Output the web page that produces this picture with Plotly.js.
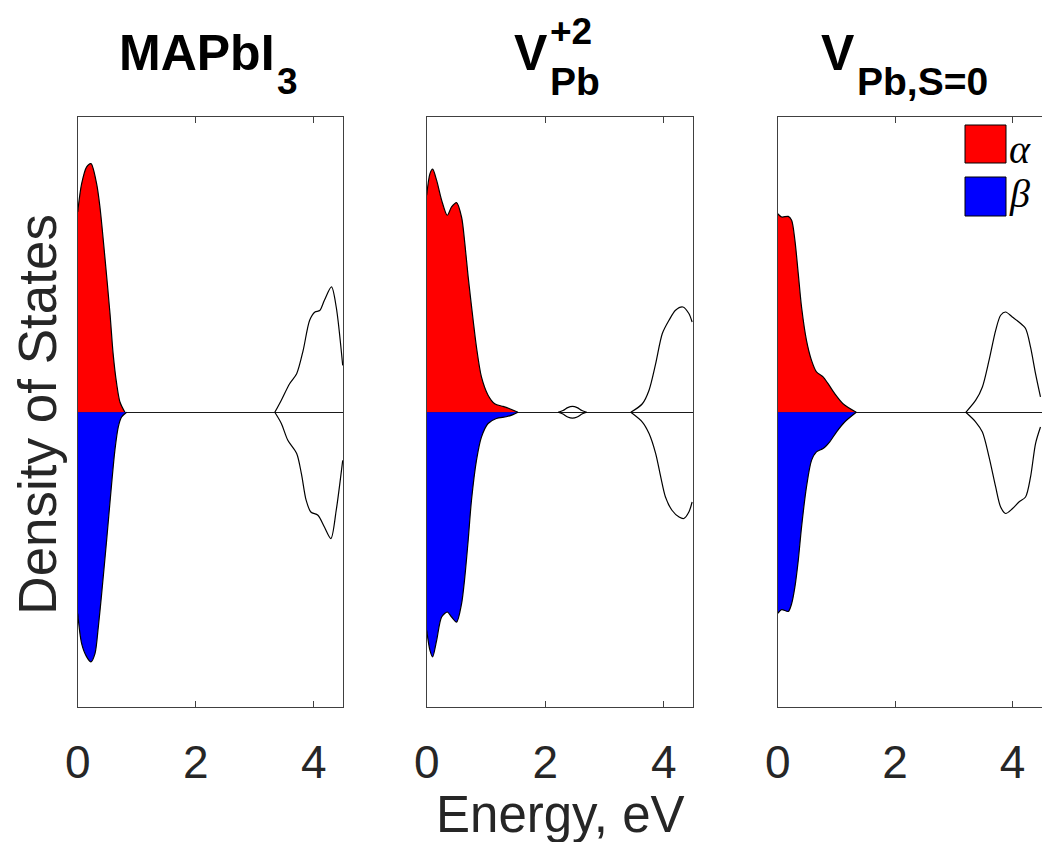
<!DOCTYPE html>
<html>
<head>
<meta charset="utf-8">
<script src="https://cdn.plot.ly/plotly-3.0.1.min.js"></script>
<style>html,body{margin:0;padding:0;background:#fff;}#chart{width:1042px;height:842px;}</style>
</head>
<body>
<div id="chart"></div>
<script>
// ---------------- DATA ----------------
// Panel 1: MAPbI3
const p1_alpha_vb_E = [0, 0.067, 0.152, 0.225, 0.32, 0.377, 0.46, 0.547, 0.60, 0.66, 0.716, 0.80];
const p1_alpha_vb   = [6.79, 7.75, 8.32, 8.43, 7.75, 6.96, 5.27, 3.35, 1.99, 0.97, 0.35, 0];
const p1_beta_vb_E  = [0, 0.067, 0.152, 0.225, 0.293, 0.349, 0.406, 0.49, 0.575, 0.63, 0.687, 0.744, 0.83];
const p1_beta_vb    = [-6.82, -7.84, -8.29, -8.46, -8.18, -7.28, -6.15, -4.34, -2.42, -1.29, -0.5, -0.16, 0];
const p1_alpha_cb_E = [3.34, 3.45, 3.59, 3.71, 3.82, 3.93, 4.02, 4.10, 4.18, 4.30, 4.38, 4.49];
const p1_alpha_cb   = [0, 0.41, 0.97, 1.31, 2.1, 3.12, 3.40, 3.45, 3.80, 4.25, 3.57, 1.59];
const p1_beta_cb_E  = [3.34, 3.45, 3.56, 3.71, 3.79, 3.87, 3.95, 4.07, 4.18, 4.29, 4.38, 4.49];
const p1_beta_cb    = [0, -0.38, -0.95, -1.4, -2.08, -2.98, -3.38, -3.49, -3.89, -4.28, -3.32, -1.63];

// Panel 2: V_Pb^{+2}
const p2_alpha_vb_E = [0, 0.055, 0.10, 0.168, 0.252, 0.347, 0.42, 0.504, 0.588, 0.644, 0.70, 0.784, 0.84, 0.924, 1.036, 1.148, 1.288, 1.40, 1.54];
const p2_alpha_vb   = [7.36, 8.09, 8.24, 7.86, 7.19, 6.68, 6.96, 7.11, 6.62, 5.72, 4.59, 3.12, 2.21, 1.20, 0.58, 0.29, 0.2, 0.12, 0];
const p2_beta_vb_E  = [0, 0.055, 0.10, 0.168, 0.252, 0.347, 0.42, 0.504, 0.588, 0.644, 0.70, 0.756, 0.84, 0.924, 1.036, 1.176, 1.344, 1.456, 1.54];
const p2_beta_vb    = [-7.39, -8.07, -8.29, -7.73, -6.94, -6.77, -6.94, -7.11, -6.49, -5.58, -4.34, -2.98, -1.63, -0.84, -0.38, -0.21, -0.15, -0.08, 0];
const p2_alpha_gap_E = [2.22, 2.30, 2.38, 2.46, 2.54, 2.62, 2.70];
const p2_alpha_gap   = [0, 0.06, 0.16, 0.2, 0.16, 0.06, 0];
const p2_beta_gap_E  = [2.22, 2.30, 2.38, 2.46, 2.54, 2.62, 2.70];
const p2_beta_gap    = [0, -0.06, -0.16, -0.2, -0.16, -0.06, 0];
const p2_alpha_cb_E = [3.445, 3.64, 3.753, 3.865, 3.977, 4.09, 4.20, 4.324, 4.425, 4.48];
const p2_alpha_cb   = [0, 0.29, 0.75, 1.65, 2.67, 3.12, 3.46, 3.57, 3.35, 3.06];
const p2_beta_cb_E  = [3.445, 3.64, 3.753, 3.865, 3.95, 4.03, 4.14, 4.26, 4.34, 4.425, 4.48];
const p2_beta_cb    = [0, -0.33, -0.72, -1.4, -2.19, -2.87, -3.32, -3.55, -3.6, -3.38, -3.04];

// Panel 3: V_Pb,S=0
const p3_alpha_vb_E = [0, 0.068, 0.18, 0.237, 0.293, 0.35, 0.406, 0.49, 0.576, 0.66, 0.773, 0.858, 0.971, 1.112, 1.338];
const p3_alpha_vb   = [6.73, 6.62, 6.64, 6.51, 5.83, 4.70, 3.57, 2.44, 1.76, 1.37, 1.20, 0.97, 0.63, 0.29, 0];
const p3_beta_vb_E  = [0, 0.068, 0.18, 0.237, 0.293, 0.35, 0.406, 0.49, 0.576, 0.66, 0.773, 0.886, 1.0, 1.14, 1.338];
const p3_beta_vb    = [-6.82, -6.69, -6.75, -6.49, -5.92, -5.02, -3.89, -2.53, -1.63, -1.34, -1.23, -1.0, -0.67, -0.33, 0];
const p3_alpha_cb_E = [3.203, 3.372, 3.485, 3.598, 3.711, 3.796, 3.881, 3.994, 4.107, 4.22, 4.305, 4.39, 4.474];
const p3_alpha_cb   = [0, 0.41, 0.86, 1.76, 2.78, 3.29, 3.40, 3.23, 3.06, 2.84, 2.21, 1.31, 0.52];
const p3_beta_cb_E  = [3.203, 3.372, 3.485, 3.598, 3.711, 3.796, 3.881, 3.994, 4.107, 4.22, 4.305, 4.39, 4.474];
const p3_beta_cb    = [0, -0.33, -0.67, -1.51, -2.53, -3.21, -3.43, -3.27, -3.04, -2.87, -2.19, -1.06, -0.5];

const xTickVals = [0, 2, 4];
const xTickText = ['0', '2', '4'];
const panelTitles = ['MAPbI', 'V', 'V'];
const spinLabels = ['\u03B1', '\u03B2'];
const xLabel = 'Energy, eV';
const yLabel = 'Density of States';

// ---------------- STYLE / LAYOUT ----------------
const W = 1042, H = 842;
const FONT = 'Liberation Sans, Arial, Helvetica, sans-serif';
const TXT = '#262626';
const AX = '#404040';
const RED = '#ff0000', BLUE = '#0000ff';
const px = v => v / W;
const py = v => 1 - v / H;

function fillTrace(x, y, color, ax) {
  return {x: x, y: y, type: 'scatter', mode: 'lines', fill: 'tozeroy', fillcolor: color,
    line: {color: '#000', width: 1.2, shape: 'spline', smoothing: 0.8},
    xaxis: 'x' + ax, yaxis: 'y' + ax, showlegend: false, hoverinfo: 'skip'};
}
function lineTrace(x, y, ax) {
  return {x: x, y: y, type: 'scatter', mode: 'lines',
    line: {color: '#000', width: 1.2, shape: 'spline', smoothing: 0.8},
    xaxis: 'x' + ax, yaxis: 'y' + ax, showlegend: false, hoverinfo: 'skip'};
}

const traces = [
  fillTrace(p1_alpha_vb_E, p1_alpha_vb, RED, ''),
  fillTrace(p1_beta_vb_E, p1_beta_vb, BLUE, ''),
  lineTrace(p1_alpha_cb_E, p1_alpha_cb, ''),
  lineTrace(p1_beta_cb_E, p1_beta_cb, ''),
  fillTrace(p2_alpha_vb_E, p2_alpha_vb, RED, '2'),
  fillTrace(p2_beta_vb_E, p2_beta_vb, BLUE, '2'),
  lineTrace(p2_alpha_gap_E, p2_alpha_gap, '2'),
  lineTrace(p2_beta_gap_E, p2_beta_gap, '2'),
  lineTrace(p2_alpha_cb_E, p2_alpha_cb, '2'),
  lineTrace(p2_beta_cb_E, p2_beta_cb, '2'),
  fillTrace(p3_alpha_vb_E, p3_alpha_vb, RED, '3'),
  fillTrace(p3_beta_vb_E, p3_beta_vb, BLUE, '3'),
  lineTrace(p3_alpha_cb_E, p3_alpha_cb, '3'),
  lineTrace(p3_beta_cb_E, p3_beta_cb, '3')
];

const yDom = [py(707.3), py(117.3)];
function xAx(dom, anchor) {
  return {domain: dom, anchor: anchor, range: [0, 4.5], tickmode: 'array', tickvals: xTickVals, ticktext: xTickText,
    ticks: 'inside', ticklen: 6, tickwidth: 1, tickcolor: AX, mirror: 'ticks', showline: true, linecolor: AX, linewidth: 1,
    showgrid: false, zeroline: false, fixedrange: true, ticklabelstandoff: 14,
    tickfont: {family: FONT, size: 46, color: TXT}};
}
function yAx(anchor) {
  return {domain: yDom, anchor: anchor, range: [-10, 10], showticklabels: false, ticks: '', showline: true, mirror: true,
    linecolor: AX, linewidth: 1, showgrid: false, zeroline: true, zerolinecolor: '#1a1a1a', zerolinewidth: 1, fixedrange: true};
}

// text placed by baseline (pixel coords)
function txt(text, xLeft, baseline, size, opts) {
  opts = opts || {};
  const cy = baseline - 0.3465 * size;
  return Object.assign({text: text, xref: 'paper', yref: 'paper', x: px(xLeft), y: py(cy),
    xanchor: 'left', yanchor: 'middle', showarrow: false, borderpad: 0,
    font: {family: FONT, size: size, color: opts.color || '#000'}}, opts.extra || {});
}

const annotations = [
  txt('<b>' + panelTitles[0] + '</b>', 118, 70, 50),
  txt('<b>3</b>', 276, 94, 37),
  txt('<b>' + panelTitles[1] + '</b>', 513, 70, 50),
  txt('<b>+2</b>', 549, 44, 37),
  txt('<b>Pb</b>', 549, 95, 39),
  txt('<b>' + panelTitles[2] + '</b>', 820, 70, 50),
  txt('<b>Pb,S=0</b>', 856, 95, 39),
  {text: xLabel, xref: 'paper', yref: 'paper', x: px(560), y: py(832 - 0.3465 * 51), xanchor: 'center', yanchor: 'middle',
    showarrow: false, borderpad: 0, font: {family: FONT, size: 51, color: TXT}},
  {text: yLabel, xref: 'paper', yref: 'paper', x: px(55 - 0.3465 * 53), y: py(414), xanchor: 'center', yanchor: 'middle',
    textangle: -90, showarrow: false, borderpad: 0, font: {family: FONT, size: 53, color: TXT}},
  {text: '<i>' + spinLabels[0] + '</i>', xref: 'paper', yref: 'paper', x: px(1008), y: py(163 - 0.33 * 40), xanchor: 'left', yanchor: 'middle',
    showarrow: false, borderpad: 0, font: {family: 'Liberation Serif, DejaVu Serif, serif', size: 40, color: '#000'}},
  {text: '<i>' + spinLabels[1] + '</i>', xref: 'paper', yref: 'paper', x: px(1008), y: py(207 - 0.33 * 40), xanchor: 'left', yanchor: 'middle',
    showarrow: false, borderpad: 0, font: {family: 'Liberation Serif, DejaVu Serif, serif', size: 40, color: '#000'}}
];

const shapes = [
  {type: 'rect', xref: 'paper', yref: 'paper', x0: px(965), x1: px(1006), y0: py(163), y1: py(125), fillcolor: RED, line: {color: '#000', width: 1}},
  {type: 'rect', xref: 'paper', yref: 'paper', x0: px(965), x1: px(1006), y0: py(216), y1: py(177), fillcolor: BLUE, line: {color: '#000', width: 1}}
];

const layout = {
  width: W, height: H, margin: {l: 0, r: 0, t: 0, b: 0}, paper_bgcolor: '#fff', plot_bgcolor: '#fff',
  showlegend: false,
  xaxis: xAx([px(77.7), px(343.3)], 'y'),
  yaxis: yAx('x'),
  xaxis2: xAx([px(426.7), px(693.3)], 'y2'),
  yaxis2: yAx('x2'),
  xaxis3: xAx([px(777.7), 1.0], 'y3'),
  yaxis3: yAx('x3'),
  annotations: annotations,
  shapes: shapes
};

Plotly.newPlot('chart', traces, layout, {displayModeBar: false, staticPlot: true});
</script>
</body>
</html>
